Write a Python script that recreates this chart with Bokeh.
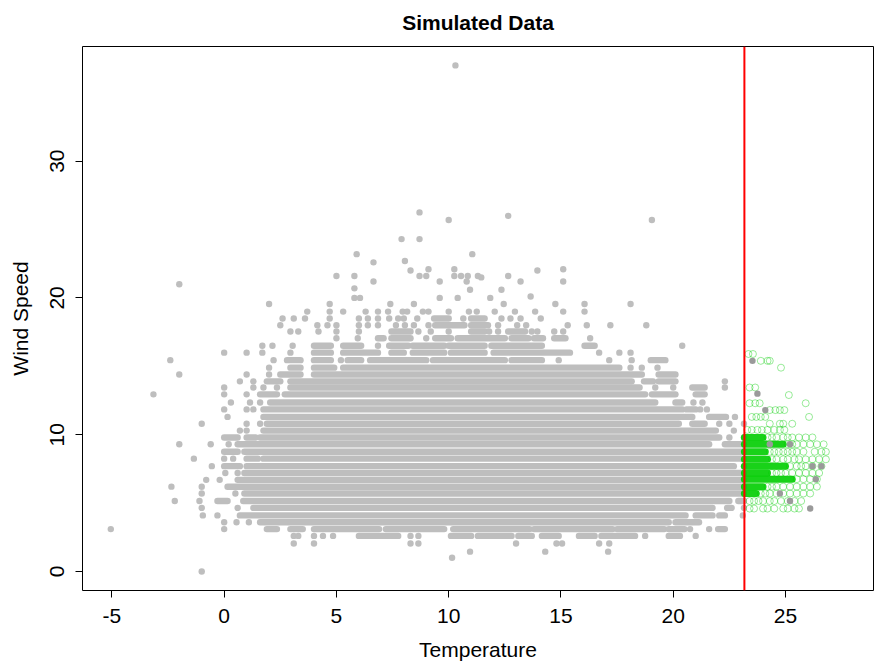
from bokeh.plotting import figure
from bokeh.models import FixedTicker, Span
from bokeh.embed import file_html
from bokeh.resources import INLINE

TITLE = "Simulated Data"
X_LABEL = "Temperature"
Y_LABEL = "Wind Speed"
x_ticks = [-5, 0, 5, 10, 15, 20, 25]
y_ticks = [0, 10, 20, 30]
threshold = 23.17   # temperature cut-off (red line)

# Dense grey runs of overlapping points: (wind speed, first temperature, last temperature)
grey_runs = [
    (18.5, 9.35, 10.0), (18.5, 11.0, 11.6),
    (18.0, 9.4, 10.7), (18.0, 11.0, 11.75),
    (17.55, 7.45, 8.3), (17.55, 11.0, 11.6), (17.55, 12.65, 13.4),
    (17.05, 6.85, 7.1), (17.05, 7.45, 8.3), (17.05, 9.4, 10.1), (17.05, 10.4, 12.5),
    (17.05, 12.8, 13.55), (17.05, 13.8, 14.2), (17.05, 14.7, 15.2),
    (16.5, 4.0, 4.75), (16.5, 5.3, 6.1), (16.5, 7.35, 8.2), (16.5, 8.4, 9.8),
    (16.5, 10.0, 11.6), (16.5, 11.9, 14.15), (16.5, 16.05, 16.5),
    (16.0, 4.0, 4.75), (16.0, 5.3, 6.85), (16.0, 7.45, 8.0), (16.0, 8.4, 9.8),
    (16.0, 10.1, 11.6), (16.0, 12.0, 15.4),
    (15.45, 2.8, 3.4), (15.45, 4.0, 4.75), (15.45, 5.5, 6.1), (15.45, 6.5, 9.0),
    (15.45, 9.3, 12.5), (15.45, 12.8, 14.15), (15.45, 19.0, 19.65),
    (14.9, 2.95, 3.4), (14.9, 4.0, 4.9), (14.9, 5.3, 17.6),
    (14.4, 2.5, 3.4), (14.4, 4.0, 18.6), (14.4, 19.35, 20.1),
    (13.9, 1.9, 2.5), (13.9, 2.95, 18.15), (13.9, 18.7, 19.1), (13.9, 19.35, 20.1),
    (13.45, 2.95, 18.5), (13.45, 20.85, 21.4),
    (12.95, 1.6, 2.35), (12.95, 2.7, 18.75), (12.95, 19.05, 20.1), (12.95, 21.0, 21.4),
    (12.35, 2.05, 19.2), (12.35, 20.1, 20.4),
    (11.85, 1.75, 20.4), (11.85, 20.6, 21.0),
    (11.3, 1.75, 20.85), (11.3, 21.6, 22.35),
    (10.8, 1.9, 20.25), (10.8, 20.85, 21.4),
    (10.3, 1.75, 21.9),
    (9.8, 0.0, 0.6), (9.8, 1.0, 1.4), (9.8, 1.6, 22.05),
    (9.3, 0.6, 21.6), (9.3, 22.3, 23.15),
    (8.75, 0.0, 0.6), (8.75, 0.9, 23.15),
    (8.25, 1.0, 1.5), (8.25, 1.75, 23.15),
    (7.7, 0.0, 0.7), (7.7, 1.0, 22.7),
    (7.2, 0.9, 23.15),
    (6.7, 0.6, 23.15),
    (6.2, 0.15, 23.15),
    (5.7, 0.9, 23.15),
    (5.15, -0.3, 0.15), (5.15, 0.85, 22.5), (5.15, 22.9, 23.15),
    (4.65, 1.3, 21.75), (4.65, 22.4, 22.6),
    (4.1, 0.7, 20.55), (4.1, 21.0, 21.75), (4.1, 22.05, 22.3),
    (3.6, 1.6, 19.8), (3.6, 20.1, 21.15),
    (3.1, 1.9, 2.35), (3.1, 2.95, 3.5), (3.1, 4.0, 6.9), (3.1, 7.2, 9.8), (3.1, 10.2, 13.6),
    (3.1, 13.8, 17.3), (3.1, 17.5, 19.6), (3.1, 19.8, 20.5), (3.1, 22.0, 22.3),
    (2.6, 6.0, 7.75), (2.6, 10.1, 11.0), (2.6, 11.3, 12.8), (2.6, 13.1, 13.7),
    (2.6, 14.15, 14.9), (2.6, 15.8, 16.5), (2.6, 16.8, 18.3), (2.6, 19.8, 20.3),
]

# Single grey points: (temperature, wind speed)
grey_points = [
    (10.3, 37.0), (8.7, 26.25), (10.0, 25.7), (12.65, 26.0), (19.05, 25.7),
    (7.9, 24.3), (8.7, 24.3), (5.9, 23.2), (11.05, 23.2), (6.65, 22.6), (8.05, 22.7),
    (8.3, 22.0), (9.1, 22.1), (10.25, 22.1), (13.95, 22.0), (15.1, 22.1),
    (8.7, 21.6), (9.0, 21.6), (10.25, 21.6), (10.55, 21.6), (10.85, 21.6), (11.3, 21.6),
    (5.0, 21.6), (5.8, 21.6), (11.45, 21.5), (12.65, 21.6), (-2.0, 21.0),
    (6.65, 21.2), (9.6, 21.2), (10.8, 21.2), (13.2, 21.2), (15.1, 21.2),
    (5.8, 20.7), (10.95, 20.6), (12.35, 20.6), (5.8, 20.0), (6.05, 20.0), (9.6, 20.0),
    (10.4, 20.0), (11.85, 20.0), (13.65, 20.1),
    (2.0, 19.55), (4.7, 19.55), (7.4, 19.55), (8.45, 19.55), (12.45, 19.55),
    (14.75, 19.55), (16.05, 19.55), (18.1, 19.55),
    (3.7, 19.0), (4.7, 19.0), (5.3, 19.0), (6.3, 19.0), (6.85, 19.0), (7.3, 19.0),
    (7.95, 19.0), (8.15, 19.0), (8.85, 19.0), (9.1, 19.0), (10.0, 19.0), (10.9, 19.0),
    (11.25, 19.0), (12.05, 19.0), (12.95, 19.0), (13.85, 19.0), (15.1, 19.0), (16.05, 19.0),
    (2.6, 18.5), (3.1, 18.5), (3.6, 18.5), (4.7, 18.5), (6.0, 18.5), (6.4, 18.5),
    (6.85, 18.5), (7.35, 18.5), (7.75, 18.5), (8.0, 18.5), (8.6, 18.5), (10.65, 18.5),
    (12.35, 18.5), (12.75, 18.5), (13.2, 18.5), (14.1, 18.5),
    (2.5, 18.0), (4.15, 18.0), (4.6, 18.0), (5.0, 18.0), (6.0, 18.0), (6.4, 18.0),
    (6.85, 18.0), (7.65, 18.0), (8.05, 18.0), (8.45, 18.0), (9.1, 18.0), (12.2, 18.0),
    (13.05, 18.0), (13.45, 18.0), (15.3, 18.0), (16.15, 18.0), (17.2, 18.0), (18.8, 18.0),
    (2.95, 17.55), (3.3, 17.55), (4.2, 17.55), (5.0, 17.55), (6.0, 17.55), (8.65, 17.55),
    (9.2, 17.55), (10.0, 17.55), (11.8, 17.55), (12.2, 17.55), (13.7, 17.55),
    (13.95, 17.55), (14.7, 17.55), (15.1, 17.55),
    (5.0, 17.05), (5.95, 17.05), (9.0, 17.05), (16.3, 17.05),
    (1.7, 16.5), (2.15, 16.5), (3.05, 16.5), (6.85, 16.5), (20.4, 16.5),
    (0.0, 16.0), (1.0, 16.0), (1.7, 16.0), (2.95, 16.0), (16.7, 16.0), (17.6, 16.0), (18.1, 16.0),
    (-2.4, 15.45), (2.2, 15.45), (5.2, 15.45), (14.9, 15.45), (17.15, 15.45), (18.15, 15.45),
    (2.0, 14.9), (18.1, 14.9), (18.6, 14.9), (19.3, 14.9),
    (-2.0, 14.4), (1.0, 14.4), (2.0, 14.4),
    (0.7, 13.9), (1.3, 13.9), (22.3, 13.9),
    (0.0, 13.45), (1.3, 13.45), (1.75, 13.45), (2.35, 13.45), (19.2, 13.45), (20.0, 13.45), (22.3, 13.45),
    (-3.15, 12.95), (0.0, 12.95), (1.0, 12.95),
    (0.3, 12.35), (1.15, 12.35), (1.6, 12.35), (20.9, 12.35), (21.3, 12.35),
    (0.0, 11.85), (1.0, 11.85), (1.3, 11.85), (21.2, 11.85), (21.5, 11.85),
    (0.15, 11.3), (22.75, 11.3),
    (-1.0, 10.8), (1.0, 10.8), (1.6, 10.8), (22.05, 10.8), (22.5, 10.8), (23.15, 10.8),
    (0.7, 10.3), (1.0, 10.3), (22.7, 10.3),
    (22.5, 9.8), (23.15, 9.8),
    (-2.0, 9.3), (-0.6, 9.3), (0.2, 9.3),
    (-1.35, 8.25), (0.0, 8.25), (0.4, 8.25),
    (-0.55, 7.7), (23.15, 7.7),
    (0.05, 7.2), (0.6, 7.2),
    (-0.8, 6.7), (-0.2, 6.7),
    (-2.35, 6.2), (-1.0, 6.2),
    (-1.0, 5.7), (0.5, 5.7),
    (-2.2, 5.15), (-1.1, 5.15),
    (-1.0, 4.65), (0.6, 4.65), (23.15, 4.65),
    (-0.95, 4.1), (-0.3, 4.1), (23.1, 4.1),
    (0.0, 3.6), (0.55, 3.6), (1.1, 3.6),
    (-5.05, 3.1), (0.0, 3.1), (20.75, 3.1), (21.6, 3.1),
    (3.1, 2.6), (3.3, 2.6), (4.0, 2.6), (4.4, 2.6), (4.85, 2.6), (8.3, 2.6), (8.65, 2.6),
    (18.75, 2.6), (21.0, 2.6),
    (3.1, 2.05), (4.0, 2.05), (8.3, 2.05), (8.65, 2.05), (13.0, 2.05), (14.8, 2.05),
    (15.05, 2.05), (16.7, 2.05), (17.15, 2.05),
    (10.95, 1.45), (14.3, 1.45), (17.1, 1.45), (10.15, 1.0), (-1.0, 0.0),
]

# Darker grey points among the hot observations: (temperature, wind speed)
dark_points = [
    (23.53, 15.4), (23.75, 13.0), (24.1, 11.8), (26.1, 4.6), (26.2, 7.7), (26.6, 7.7),
    (24.3, 9.3), (25.2, 9.3), (26.35, 6.75), (25.2, 5.15), (24.75, 5.7),
]

# Hot observations (open green circles): dense runs (wind, last temperature) ...
green_runs = [
    (9.8, 24.0), (9.3, 24.9), (8.75, 24.1), (8.2, 24.2), (7.7, 25.0),
    (7.2, 24.2), (6.75, 25.3), (6.2, 24.0), (5.7, 23.7),
]
# ... and single circles: (temperature, wind speed)
green_points = [
    (23.35, 15.9), (23.55, 15.9), (23.9, 15.4), (24.2, 15.4), (24.3, 15.4), (24.8, 14.9),
    (23.4, 13.45), (23.65, 13.45), (25.15, 12.9),
    (23.4, 12.3), (23.65, 12.3), (23.85, 12.3), (25.9, 12.3),
    (24.3, 11.8), (24.55, 11.8), (24.75, 11.8), (24.95, 11.8),
    (23.5, 11.3), (23.7, 11.3), (23.9, 11.3), (24.1, 11.3), (26.05, 11.3),
    (24.3, 10.8), (24.75, 10.8), (24.9, 10.8), (25.3, 10.8),
    (23.3, 10.35), (23.5, 10.35), (23.75, 10.35), (23.95, 10.35), (24.2, 10.35),
    (24.5, 10.35), (24.75, 10.35), (24.95, 10.35),
    (24.2, 9.8), (24.4, 9.8), (24.6, 9.8), (24.9, 9.8), (25.1, 9.8), (25.3, 9.8),
    (25.6, 9.8), (25.9, 9.8), (26.2, 9.8),
    (25.1, 9.3), (25.3, 9.3), (25.5, 9.3), (25.8, 9.3), (26.1, 9.3), (26.4, 9.3), (26.7, 9.3),
    (24.3, 8.75), (24.5, 8.75), (24.7, 8.75), (24.9, 8.75), (25.1, 8.75), (25.3, 8.75),
    (25.5, 8.75), (25.8, 8.75), (26.3, 8.75), (26.6, 8.75), (26.8, 8.75),
    (24.4, 8.2), (24.6, 8.2), (24.9, 8.2), (25.1, 8.2), (25.4, 8.2), (25.6, 8.2),
    (25.9, 8.2), (26.2, 8.2), (26.5, 8.2), (26.8, 8.2),
    (25.2, 7.7), (25.5, 7.7), (25.7, 7.7), (25.9, 7.7), (26.2, 7.7), (26.6, 7.7),
    (24.4, 7.2), (24.6, 7.2), (24.8, 7.2), (25.0, 7.2), (25.3, 7.2), (25.6, 7.2),
    (25.9, 7.2), (26.2, 7.2), (26.5, 7.2),
    (25.5, 6.75), (25.8, 6.75), (26.1, 6.75), (26.4, 6.75),
    (24.2, 6.2), (24.4, 6.2), (24.6, 6.2), (24.9, 6.2), (25.2, 6.2), (25.5, 6.2),
    (25.8, 6.2), (26.1, 6.2), (26.4, 6.2),
    (23.9, 5.7), (24.1, 5.7), (24.3, 5.7), (24.6, 5.7), (24.9, 5.7), (25.2, 5.7),
    (25.5, 5.7), (25.8, 5.7), (26.1, 5.7),
    (23.4, 5.15), (23.6, 5.15), (23.8, 5.15), (24.0, 5.15), (24.3, 5.15), (24.5, 5.15),
    (24.8, 5.15), (25.1, 5.15), (25.4, 5.15), (25.7, 5.15),
    (23.4, 4.6), (23.6, 4.6), (24.0, 4.6), (24.2, 4.6), (24.5, 4.6), (24.9, 4.6),
    (25.1, 4.6), (25.4, 4.6), (25.6, 4.6),
]

FONT = "Liberation Sans"
GREY = "#BEBEBE"
GREEN = "#00CD00"
PT = 6.4

p = figure(width=874, height=664, x_range=(-6.31, 28.92), y_range=(-1.39, 38.38),
           output_backend="svg", toolbar_location=None,
           min_border_left=82, min_border_right=1, min_border_top=0, min_border_bottom=74)

p.title.text = TITLE
p.title.text_font = FONT
p.title.text_font_size = "21px"
p.title.text_font_style = "bold"
p.title.text_color = "black"
p.title.align = "center"
p.title.vertical_align = "top"
p.title.standoff = 21

p.xgrid.visible = False
p.ygrid.visible = False
p.outline_line_color = "black"
p.outline_line_width = 1
p.background_fill_color = "white"
p.border_fill_color = "white"

# grey runs
p.segment(x0=[r[1] for r in grey_runs], y0=[r[0] for r in grey_runs],
          x1=[r[2] for r in grey_runs], y1=[r[0] for r in grey_runs],
          line_color=GREY, line_width=PT, line_cap="round")
p.scatter(x=[q[0] for q in grey_points], y=[q[1] for q in grey_points],
          size=PT, marker="circle", fill_color=GREY, line_color=None)

# green runs & circles
p.segment(x0=[threshold] * len(green_runs), y0=[r[0] for r in green_runs],
          x1=[r[1] for r in green_runs], y1=[r[0] for r in green_runs],
          line_color=GREEN, line_width=7, line_cap="round", line_alpha=0.9)
p.scatter(x=[q[0] for q in green_points], y=[q[1] for q in green_points],
          size=7, marker="circle", fill_color=None, line_color=GREEN,
          line_alpha=0.4, line_width=1)
p.scatter(x=[q[0] for q in dark_points], y=[q[1] for q in dark_points],
          size=PT, marker="circle", fill_color="#9A9A9A", line_color=None)

p.add_layout(Span(location=threshold, dimension="height", line_color="red", line_width=2))

for ax, ticks, lab in ((p.xaxis[0], x_ticks, X_LABEL), (p.yaxis[0], y_ticks, Y_LABEL)):
    ax.ticker = FixedTicker(ticks=ticks)
    ax.major_label_overrides = {t: str(t) for t in ticks}
    ax.axis_label = lab
    ax.axis_label_text_font = FONT
    ax.axis_label_text_font_size = "21px"
    ax.axis_label_text_font_style = "normal"
    ax.axis_label_text_color = "black"
    ax.major_label_text_font = FONT
    ax.major_label_text_font_size = "21px"
    ax.major_label_text_color = "black"
    ax.major_tick_in = 0
    ax.major_tick_out = 7
    ax.major_tick_line_color = "black"
    ax.minor_tick_line_color = None
    ax.axis_line_color = None

p.xaxis.major_label_standoff = 11
p.xaxis.axis_label_standoff = 12
p.yaxis.major_label_orientation = "vertical"
p.yaxis.major_label_standoff = 11
p.yaxis.axis_label_standoff = 16

open("out.html", "w").write(file_html(p, INLINE))
